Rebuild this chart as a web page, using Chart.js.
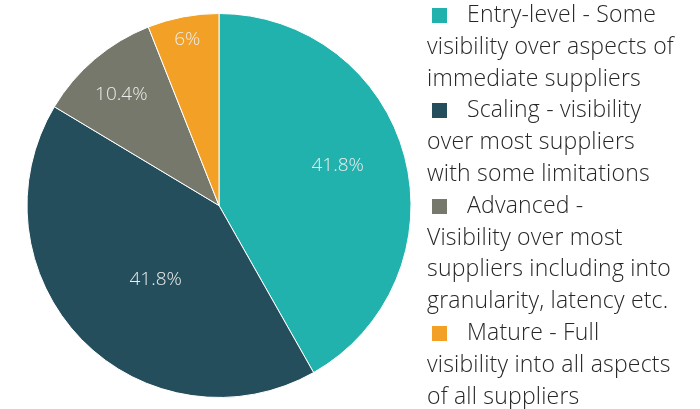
<!DOCTYPE html>
<html>
<head>
<meta charset="utf-8">
<script src="https://cdn.jsdelivr.net/npm/chart.js@4.4.1/dist/chart.umd.min.js"></script>
<style>
    html, body { margin: 0; padding: 0; background: #fff; }
    #wrap { position: relative; width: 700px; height: 409px; overflow: hidden; }
    #legend {
        position: absolute; left: 427px; top: -2px;
        font-family: "Open Sans", sans-serif; font-weight: 300;
        font-size: 23px; letter-spacing: 0.2px; line-height: 31.8px; color: #262626;
        white-space: nowrap;
    }
    #legend .box {
        display: inline-block; width: 15px; height: 15px;
        margin-left: 5px; margin-right: 20px; vertical-align: -1px;
    }
</style>
</head>
<body>
<div id="wrap">
    <canvas id="pie" width="700" height="409"></canvas>
    <div id="legend"></div>
</div>
<script>
// labels, one array of lines for each category
const categories = [
    ["Entry-level - Some", "visibility over aspects of", "immediate suppliers"],
    ["Scaling - visibility", "over most suppliers", "with some limitations"],
    ["Advanced -", "Visibility over most", "suppliers including into", "granularity, latency etc."],
    ["Mature - Full", "visibility into all aspects", "of all suppliers"]
];
const shares = [41.8, 41.8, 10.4, 6];
const colors = ["#21B2AE", "#244E5B", "#75786A", "#F2A126"];

// where each value label sits: fraction of radius, angle shift in degrees
const labelPlace = [[0.653, -4], [0.509, -5.3], [0.769, -1.1], [0.882, 0]];

const valueLabels = {
    id: 'valueLabels',
    afterDatasetsDraw(chart) {
        const ctx = chart.ctx;
        const meta = chart.getDatasetMeta(0);
        ctx.save();
        ctx.font = '300 19px "Open Sans", sans-serif';
        ctx.fillStyle = '#ececec';
        ctx.textAlign = 'center';
        ctx.textBaseline = 'middle';
        meta.data.forEach((arc, i) => {
            const p = arc.getProps(['x', 'y', 'startAngle', 'endAngle', 'outerRadius'], true);
            const a = (p.startAngle + p.endAngle) / 2 + labelPlace[i][1] * Math.PI / 180;
            const r = p.outerRadius * labelPlace[i][0];
            ctx.fillText(shares[i] + '%', p.x + Math.cos(a) * r, p.y + Math.sin(a) * r);
        });
        ctx.restore();
    }
};

new Chart(document.getElementById('pie').getContext('2d'), {
    type: 'pie',
    data: {
        labels: categories,
        datasets: [{
            data: shares,
            backgroundColor: colors,
            borderColor: '#ffffff',
            borderWidth: 1
        }]
    },
    options: {
        responsive: false,
        animation: false,
        layout: { padding: { left: 26.5, right: 288.5, top: 13, bottom: 11 } },
        plugins: {
            legend: { display: false },
            tooltip: { enabled: false }
        }
    },
    plugins: [valueLabels]
});

// legend built from the same arrays
const legend = document.getElementById('legend');
categories.forEach((lines, i) => {
    lines.forEach((line, j) => {
        const div = document.createElement('div');
        if (j === 0) {
            const box = document.createElement('span');
            box.className = 'box';
            box.style.background = colors[i];
            div.appendChild(box);
        }
        div.appendChild(document.createTextNode(line));
        legend.appendChild(div);
    });
});
</script>
</body>
</html>
